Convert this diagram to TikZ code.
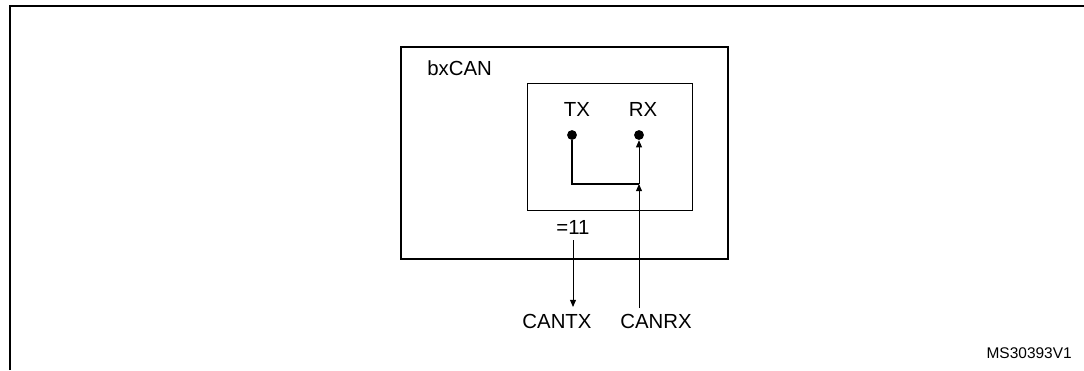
\documentclass[tikz,border=0pt]{standalone}
\usepackage{fontspec}
\setmainfont{Liberation Sans}
\usetikzlibrary{arrows.meta,positioning}

\begin{document}
\begin{tikzpicture}[x=0.025cm,y=-0.025cm,
  lbl/.style={inner sep=0pt,font=\fontsize{14.5}{17}\selectfont},
  tag/.style={inner sep=0pt,font=\fontsize{11}{13}\selectfont},
  pin/.style={circle,fill=black,inner sep=0pt,minimum size=7},
  arr/.style={-{Triangle[length=1.8mm,width=1.5mm]},line width=0.7pt},
  wire/.style={line width=1.3pt}]
  \useasboundingbox (0,0) rectangle (1084,370);
  % page frame, cut off right and below
  \draw[line width=2pt] (10,370) -- (10,6) -- (1084,6);
  % bxCAN block and its inner loop-back box
  \draw[line width=1.7pt] (401,47) rectangle (728,259);
  \draw[line width=0.7pt] (527,83) rectangle (692,210);
  \node[lbl,anchor=west] (can) at (427,68) {bxCAN};
  \node[lbl] (tx) at (577,109) {TX};
  \node[lbl] (rx) at (643,109) {RX};
  \node[pin] (txdot) at (572,135) {};
  \node[pin] (rxdot) at (639,135) {};
  \coordinate (join) at (639,184);
  \node[lbl] (mode) at (573,227) {=11};
  % pins outside
  \node[lbl] (cantx) at (557,321) {CANTX};
  \node[lbl] (canrx) at (656,321) {CANRX};
  \coordinate (txout) at (573,307);
  \coordinate (rxin) at (639,308);
  \draw[wire] (txdot) |- (join);
  \draw[arr] (rxin) -- (join);
  \draw[arr] (join) -- (rxdot.south);
  \draw[arr] (mode.south) ++(0,6) -- (txout);
  \node[tag,anchor=east] (ref) at (1072,353) {MS30393V1};
\end{tikzpicture}
\end{document}
